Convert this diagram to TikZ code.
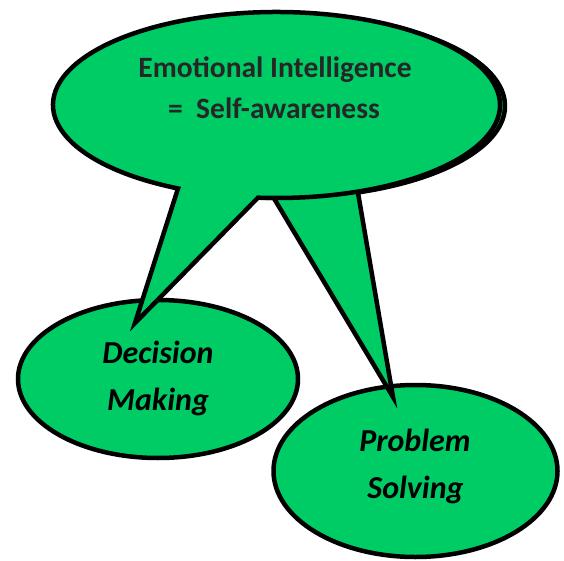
\documentclass[tikz,border=0pt]{standalone}
\usepackage{fontspec}
\setmainfont{Carlito}
\usetikzlibrary{shapes.geometric}
\definecolor{bubble}{RGB}{0,204,102}
\definecolor{headtext}{RGB}{38,38,38}
\tikzset{
  outline/.style={draw=black, line width=4.5pt, fill=bubble, line join=miter},
  blob/.style={outline, ellipse, inner sep=0pt},
  headline/.style={font=\fontsize{29.5}{31}\selectfont\bfseries, text=headtext, anchor=base, inner sep=0pt},
  blobtext/.style={font=\fontsize{32}{34}\selectfont\bfseries\itshape, text=black, anchor=base, inner sep=0pt}
}
\begin{document}
\begin{tikzpicture}[x=1pt, y=1pt]
  \useasboundingbox (0,0) rectangle (564,560);

  % lower bubbles
  \node[blob, minimum width=280, minimum height=158] (dm) at (158,181) {};
  \node[blob, minimum width=284, minimum height=172] (ps) at (415.5,89) {};

  % tips of the two callout tails
  \coordinate (tipps) at (393,163);
  \coordinate (tipdm) at (135,237);

  % back callout, tail towards Problem Solving
  \coordinate (cb) at (281.5,454);
  \draw[outline] ([shift={(290:223.5 and 92)}]cb) -- (tipps)
    -- ([shift={(268:223.5 and 92)}]cb)
    arc[start angle=268, end angle=-70, x radius=223.5, y radius=92] -- cycle;

  % front callout, tail towards Decision Making
  \coordinate (cf) at (276.5,455);
  \draw[outline] ([shift={(265.25:223.5 and 93)}]cf) -- (tipdm)
    -- ([shift={(243.85:223.5 and 93)}]cf)
    arc[start angle=243.85, end angle=-94.75, x radius=223.5, y radius=93] -- cycle;

  % texts
  \node[headline] (t1) at (275,482) {Emotional Intelligence};
  \node[headline] (t2) at (274,441) {=\ \ Self-awareness};
  \node[blobtext] (d1) at (158,197) {Decision};
  \node[blobtext] (d2) at (158,150) {Making};
  \node[blobtext] (p1) at (415,109) {Problem};
  \node[blobtext] (p2) at (415.5,62) {Solving};
\end{tikzpicture}
\end{document}
